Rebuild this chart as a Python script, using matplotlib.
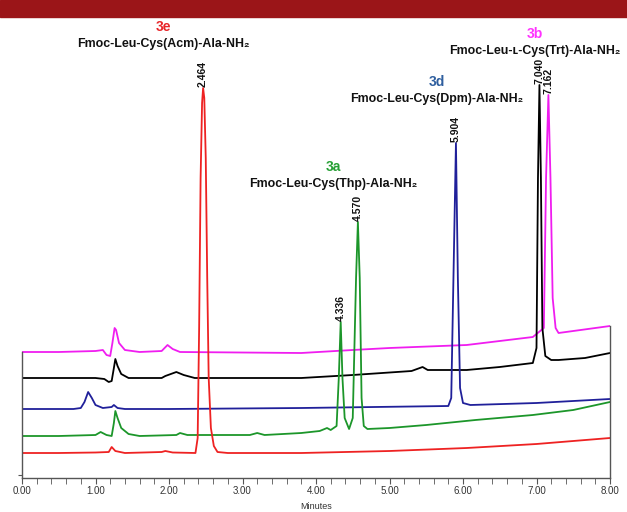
import matplotlib
matplotlib.use("Agg")
import matplotlib.pyplot as plt
from matplotlib.patches import Rectangle
from matplotlib.ticker import MultipleLocator, FormatStrFormatter

plt.rcParams['font.family'] = ['Liberation Sans', 'DejaVu Sans']

# traces: retention time (min) and detector signal (arbitrary units, stacked offsets)
red_t = [0, 0.5, 1.0, 1.18, 1.22, 1.27, 1.4, 1.9, 1.95, 2.05, 2.36, 2.39, 2.41, 2.43, 2.45, 2.464,
         2.48, 2.50, 2.52, 2.54, 2.57, 2.61, 2.66, 2.8, 3.8, 5.0, 6.05, 7.0, 8.0]
red_y = [25, 25, 25.5, 26, 31, 27, 25, 26, 27, 25.5, 25, 40, 150, 300, 375, 390,
         380, 320, 200, 100, 50, 32, 26, 25, 25, 27, 30, 34, 40]

green_t = [0, 0.5, 1.0, 1.07, 1.15, 1.22, 1.25, 1.27, 1.30, 1.35, 1.45, 1.6, 2.1, 2.15, 2.25, 3.1,
           3.2, 3.3, 3.8, 4.05, 4.15, 4.2, 4.28, 4.31, 4.336, 4.36, 4.39, 4.45, 4.50, 4.545,
           4.57, 4.595, 4.62, 4.65, 4.7, 5.0, 5.5, 6.17, 6.95, 7.5, 8.0]
green_y = [42, 42, 43, 46, 43, 42, 55, 67, 60, 50, 44, 42, 43, 45, 43, 43,
           45, 43, 45, 47, 50, 48, 52, 100, 156, 100, 60, 49, 60, 200,
           256, 200, 80, 52, 49, 50, 53, 58, 63, 68, 76]

blue_t = [0, 0.7, 0.8, 0.85, 0.9, 0.95, 1.0, 1.1, 1.22, 1.25, 1.3, 1.4, 2.0, 3.8, 5.8, 5.84,
          5.87, 5.904, 5.93, 5.96, 6.0, 6.1, 7.0, 8.0]
blue_y = [69, 69, 70, 76, 86, 80, 73, 70, 71, 73, 70, 69, 69, 70, 72, 80,
          200, 335, 200, 90, 75, 73, 75, 79]

black_t = [0, 1.0, 1.12, 1.18, 1.22, 1.25, 1.27, 1.30, 1.35, 1.45, 1.9, 1.95, 2.1, 2.2, 2.35,
           3.8, 4.5, 5.3, 5.45, 5.52, 6.05, 6.5, 6.95, 7.0, 7.02, 7.04, 7.06, 7.08, 7.12,
           7.2, 7.3, 7.66, 8.0]
black_y = [100, 100, 99, 96, 97, 110, 119, 112, 104, 100, 100, 102, 106, 103, 100,
           100, 103, 107, 111, 108, 108, 111, 115, 130, 300, 393, 300, 150, 122,
           118, 118, 120, 125]

magenta_t = [0, 0.5, 1.0, 1.1, 1.15, 1.2, 1.23, 1.26, 1.28, 1.32, 1.4, 1.6, 1.9, 1.98, 2.05,
             2.15, 3.8, 4.5, 5.0, 6.05, 6.95, 7.1, 7.13, 7.162, 7.19, 7.22, 7.26, 7.3, 7.6, 8.0]
magenta_y = [126, 126, 127, 128, 123, 122, 135, 150, 148, 135, 128, 126, 127, 133, 129,
             126, 125, 128, 130, 133, 141, 150, 300, 383, 300, 180, 150, 145, 148, 152]

# labelled peaks
peak_rt = [2.464, 4.336, 4.570, 5.904, 7.040, 7.162]
peak_h = [390, 156, 256, 335, 393, 383]
peak_lbl = ['2.464', '4.336', '4.570', '5.904', '7.040', '7.162']

# compound labels
cmp_ids = ['3e', '3a', '3d', '3b']
cmp_names = ['Fmoc-Leu-Cys(Acm)-Ala-NH\u2082', 'Fmoc-Leu-Cys(Thp)-Ala-NH\u2082',
             'Fmoc-Leu-Cys(Dpm)-Ala-NH\u2082', 'Fmoc-Leu-\u029f-Cys(Trt)-Ala-NH\u2082']
cmp_x = [1.92, 4.23, 5.64, 6.98]
cmp_y = [451, 311, 396, 444]
cmp_col = ['#e8262a', '#27a035', '#2f5f9f', '#ff33ff']

fig = plt.figure(figsize=(6.27, 5.12), dpi=100)
fig.patches.append(Rectangle((0, 1 - 17 / 512), 1, 17 / 512, transform=fig.transFigure,
                             color='#9b1518', zorder=-1))
ax = fig.add_axes([22 / 627, 34 / 512, 588 / 627, 458 / 512])
ax.patch.set_visible(False)

ax.plot(magenta_t, magenta_y, color='#f01df0', lw=1.3)
ax.plot(black_t, black_y, color='black', lw=1.3)
ax.plot(blue_t, blue_y, color='#20209a', lw=1.3)
ax.plot(green_t, green_y, color='#1c962a', lw=1.3)
ax.plot(red_t, red_y, color='#ee2222', lw=1.3)

for t, h, s in zip(peak_rt, peak_h, peak_lbl):
    ax.text(t, h + 1, s, rotation=90, ha='center', va='bottom', fontsize=7.5,
            fontweight='bold', color='#111111')

for x, y, i, n, c in zip(cmp_x, cmp_y, cmp_ids, cmp_names, cmp_col):
    ax.text(x, y, i, ha='center', va='center', fontsize=10, fontweight='bold', color=c)
    ax.text(x, y - 17, n, ha='center', va='center', fontsize=8.9, fontweight='bold',
            color='#111111')

ax.set_xlim(0, 8)
ax.set_ylim(0, 458)
ax.spines['top'].set_visible(False)
ax.spines['left'].set_bounds(0, 126)
ax.spines['right'].set_bounds(0, 152)
for sp in ['left', 'right', 'bottom']:
    ax.spines[sp].set_color('#555555')
    ax.spines[sp].set_linewidth(1.0)

ax.xaxis.set_major_locator(MultipleLocator(1))
ax.xaxis.set_minor_locator(MultipleLocator(0.2))
ax.xaxis.set_major_formatter(FormatStrFormatter('%.2f'))
ax.tick_params(axis='x', which='both', direction='out', length=4, color='#555555',
               labelsize=7, pad=2, labelcolor='#333333')
ax.set_yticks([3])
ax.set_yticklabels([])
ax.tick_params(axis='y', direction='out', length=3, color='#555555')
ax.set_xlabel('Minutes', fontsize=6.5, color='#333333', labelpad=4)

fig.savefig('out.png', dpi=100)
